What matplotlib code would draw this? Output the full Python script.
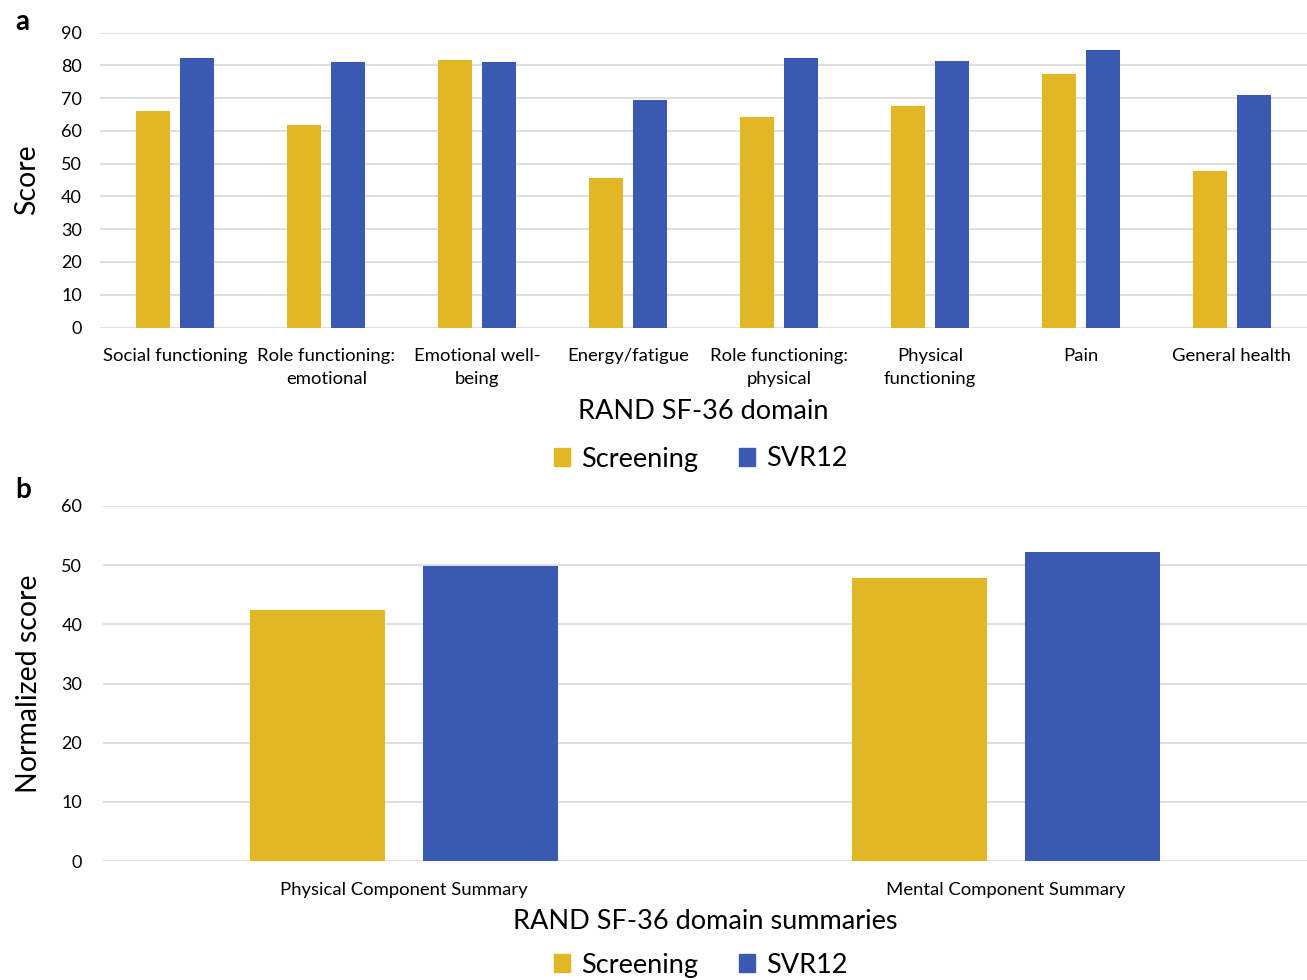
import matplotlib.pyplot as plt
import numpy as np
from matplotlib.patches import Patch

plt.rcParams['font.family'] = ['Lato', 'DejaVu Sans']

domains = ["Social functioning", "Role functioning:\nemotional", "Emotional well-\nbeing",
           "Energy/fatigue", "Role functioning:\nphysical", "Physical\nfunctioning",
           "Pain", "General health"]
screening = [66.0, 61.9, 81.7, 45.7, 64.2, 67.7, 77.4, 47.7]
svr12 = [82.1, 80.9, 81.1, 69.3, 82.1, 81.4, 84.8, 70.8]

summaries = ["Physical Component Summary", "Mental Component Summary"]
summary_screening = [42.5, 47.8]
summary_svr12 = [49.9, 52.3]

YELLOW = "#E1B726"
BLUE = "#3A59B0"
GRID = "#D9D9D9"


def style_axes(ax):
    for s in ax.spines.values():
        s.set_visible(False)
    ax.yaxis.grid(True, color=GRID, linewidth=1.2)
    ax.set_axisbelow(True)
    ax.tick_params(length=0)


fig = plt.figure(figsize=(13.07, 9.8), dpi=100)

# panel a
ax1 = fig.add_axes([0.0765, 0.6658, 0.9235, 0.301])
x = np.arange(len(domains))
w = 0.225
ax1.bar(x - 0.146, screening, w, color=YELLOW)
ax1.bar(x + 0.146, svr12, w, color=BLUE)
ax1.set_xlim(-0.5, len(domains) - 0.5)
ax1.set_ylim(0, 90)
ax1.set_yticks(range(0, 91, 10))
ax1.set_xticks(x)
ax1.set_xticklabels(domains, fontsize=13.3, linespacing=1.5)
ax1.tick_params(axis='y', labelsize=13, pad=13)
ax1.tick_params(axis='x', pad=15)
style_axes(ax1)
ax1.set_ylabel("Score", fontsize=20.5, labelpad=15)
ax1.set_xlabel("RAND SF-36 domain", fontsize=19.5, labelpad=9)

# panel b
ax2 = fig.add_axes([0.0788, 0.1214, 0.9212, 0.3623])
x2 = np.arange(len(summaries))
ax2.bar(x2 - 0.144, summary_screening, w, color=YELLOW)
ax2.bar(x2 + 0.144, summary_svr12, w, color=BLUE)
ax2.set_xlim(-0.5, len(summaries) - 0.5)
ax2.set_ylim(0, 60)
ax2.set_yticks(range(0, 61, 10))
ax2.set_xticks(x2)
ax2.set_xticklabels(summaries, fontsize=13.3)
ax2.tick_params(axis='y', labelsize=13, pad=15)
ax2.tick_params(axis='x', pad=15)
style_axes(ax2)
ax2.set_ylabel("Normalized score", fontsize=20.5, labelpad=14)
ax2.set_xlabel("RAND SF-36 domain summaries", fontsize=19.5, labelpad=8)

handles = [Patch(color=YELLOW, label="Screening"), Patch(color=BLUE, label="SVR12")]
for yc in (1 - 459 / 980, 1 - 965 / 980):
    fig.legend(handles=handles, loc="center", bbox_to_anchor=(0.536, yc), ncol=2,
               frameon=False, fontsize=19.5, handlelength=0.6, handleheight=0.6,
               handletextpad=0.4, columnspacing=1.5)

fig.text(0.012, 0.978, "a", fontsize=20, fontweight="bold", va="center")
fig.text(0.012, 0.5, "b", fontsize=20, fontweight="bold", va="center")

plt.savefig("out.png", dpi=100)
